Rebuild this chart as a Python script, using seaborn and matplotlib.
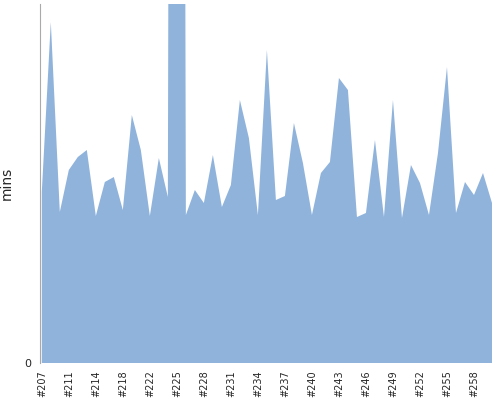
import matplotlib
matplotlib.use("Agg")
import matplotlib.pyplot as plt
import seaborn as sns
import pandas as pd

# episode labels (only every third is shown on the axis)
episodes = [207, 209, 210, 211, 212, 213, 214, 216, 217, 218, 220, 221, 222, 223, 224,
            225, 226, 227, 228, 229, 230, 231, 232, 233, 234, 235, 236, 237, 238, 239,
            240, 241, 242, 243, 244, 245, 246, 247, 248, 249, 250, 251, 252, 253, 254,
            255, 256, 257, 258, 259, 260]
mins = [17.1, 34.1, 15.1, 19.3, 20.6, 21.3, 14.7, 18.1, 18.6, 15.3, 24.8, 21.3, 14.7,
        20.5, 16.6, 400.0, 14.8, 17.3, 16.0, 20.8, 15.6, 17.8, 26.3, 22.5, 14.8, 31.3,
        16.3, 16.7, 24.0, 20.0, 14.8, 19.0, 20.1, 28.5, 27.3, 14.6, 15.0, 22.3, 14.6,
        26.3, 14.5, 19.8, 18.0, 14.8, 21.0, 29.6, 15.0, 18.1, 16.8, 19.0, 16.0]

df = pd.DataFrame({"ep": [f"#{e}" for e in episodes], "mins": mins})
df["pos"] = range(len(df))

sns.set_style("white")
fig = plt.figure(figsize=(5, 4), dpi=100)
ax = fig.add_axes([0.08, 0.0925, 0.904, 0.8975])

sns.lineplot(data=df, x="pos", y="mins", ax=ax, linewidth=0, color="#90b3dc")
ax.fill_between(df["pos"], df["mins"], 0, color="#90b3dc", linewidth=0)

ax.set_xlim(-0.2, len(df) - 1)
ax.set_ylim(0, 35.9)
ax.set_yticks([0])
ax.set_yticklabels(["0"], fontsize=8)
ax.set_xticks(df["pos"])
ax.set_xticklabels([lbl if i % 3 == 0 else "" for i, lbl in enumerate(df["ep"])],
                   rotation=90, fontsize=7)
ax.tick_params(axis="x", length=3, color="#999999", pad=2)
ax.tick_params(axis="y", length=0, pad=6)
ax.set_xlabel("")
ax.set_ylabel("mins", fontsize=10)
ax.yaxis.set_label_coords(-0.058, 0.5)
for s in ["top", "right", "bottom"]:
    ax.spines[s].set_visible(False)
ax.spines["left"].set_color("#aaaaaa")

fig.savefig("out.png", dpi=100)
